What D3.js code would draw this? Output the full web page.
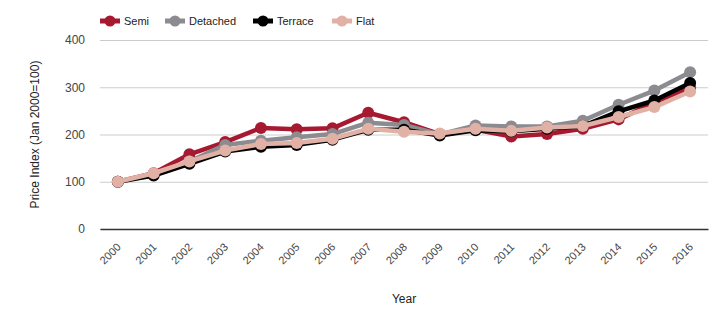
<!DOCTYPE html>
<html>
<head>
<meta charset="utf-8">
<script src="https://cdn.jsdelivr.net/npm/d3@7"></script>
<style>
  body { margin: 0; background: #fff; font-family: "Liberation Sans", Arial, sans-serif; }
  .axis text { fill: #444; font-size: 12px; font-family: "Liberation Sans", Arial, sans-serif; }
</style>
</head>
<body>
<div id="chart"></div>
<script>
// >-----------------< Data >-------------------<
const years = ["2000", "2001", "2002", "2003", "2004", "2005", "2006", "2007", "2008",
  "2009", "2010", "2011", "2012", "2013", "2014", "2015", "2016"];
const semi     = [100, 118, 158, 184, 214, 211, 213, 246, 226, 201, 210, 196, 201, 212, 232, 268, 299];
const detached = [100, 115, 143, 178, 187, 194, 201, 225, 220, 200, 219, 217, 217, 229, 263, 293, 332];
const terrace  = [100, 113, 138, 164, 174, 178, 189, 210, 210, 198, 209, 207, 212, 218, 249, 272, 309];
const flat     = [100, 118, 143, 166, 180, 182, 191, 212, 206, 202, 212, 208, 215, 218, 237, 258, 291];
const yTicks = [0, 100, 200, 300, 400];

const seriesNames = ["Semi", "Detached", "Terrace", "Flat"];
const seriesValues = [semi, detached, terrace, flat];
const colors = ["#a71930", "#8b8b90", "#000000", "#e2b1a6"];

// >-----------------< Layout >-------------------<
const width = 720, height = 330;
const margin = {top: 40, right: 12, bottom: 101, left: 100};
const chartWidth = width - margin.left - margin.right;
const chartHeight = height - margin.top - margin.bottom;

const svg = d3.select("#chart").append("svg")
  .attr("width", width)
  .attr("height", height);

const g = svg.append("g")
  .attr("transform", `translate(${margin.left},${margin.top})`);

const x = d3.scaleBand().domain(years).range([0, chartWidth]);
const y = d3.scaleLinear().domain([0, 400]).range([chartHeight, 0]);

// Gridlines + y axis
const yAxis = g.append("g")
  .attr("class", "axis")
  .call(d3.axisLeft(y).tickValues(yTicks).tickSize(-chartWidth).tickPadding(15));
yAxis.select(".domain").remove();
yAxis.selectAll("line").attr("stroke", "#ccc");

// x axis, labels slanted up to the right and ending just under each tick
const xAxis = g.append("g")
  .attr("class", "axis")
  .attr("transform", `translate(0,${chartHeight})`)
  .call(d3.axisBottom(x).tickSize(0));
xAxis.select(".domain").attr("stroke", "#333").attr("stroke-width", 1.3);
xAxis.selectAll("text")
  .attr("x", 0)
  .attr("y", 0)
  .attr("dy", "0.35em")
  .attr("text-anchor", "end")
  .style("font-size", "11px")
  .attr("transform", "translate(1,16) rotate(-45)");

// Axis titles
svg.append("text")
  .attr("transform", `translate(39,${margin.top + chartHeight / 2}) rotate(-90)`)
  .attr("text-anchor", "middle")
  .attr("font-size", 12)
  .attr("fill", "#222")
  .text("Price Index (Jan 2000=100)");

svg.append("text")
  .attr("x", margin.left + chartWidth / 2)
  .attr("y", 303)
  .attr("text-anchor", "middle")
  .attr("font-size", 12)
  .attr("fill", "#222")
  .text("Year");

// Lines
const line = d3.line()
  .x((d, i) => x(years[i]) + x.bandwidth() / 2)
  .y(d => y(d));

seriesValues.forEach((vals, si) => {
  const s = g.append("g");
  s.append("path")
    .datum(vals)
    .attr("d", line)
    .attr("fill", "none")
    .attr("stroke", colors[si])
    .attr("stroke-width", 4.5)
    .attr("stroke-linejoin", "round");
  s.selectAll("circle")
    .data(vals)
    .enter().append("circle")
    .attr("cx", (d, i) => x(years[i]) + x.bandwidth() / 2)
    .attr("cy", d => y(d))
    .attr("r", 6)
    .attr("fill", colors[si]);
});

// Legend
const legendX = [100, 165, 253, 332];
const legend = svg.append("g");
seriesNames.forEach((name, i) => {
  const lg = legend.append("g").attr("transform", `translate(${legendX[i]},21)`);
  lg.append("line")
    .attr("x1", 0).attr("x2", 20)
    .attr("stroke", colors[i]).attr("stroke-width", 5);
  lg.append("circle")
    .attr("cx", 10).attr("r", 5.5)
    .attr("fill", colors[i]);
  lg.append("text")
    .attr("x", 24).attr("y", 4)
    .attr("font-size", 11)
    .attr("fill", "#222")
    .text(name);
});
</script>
</body>
</html>
